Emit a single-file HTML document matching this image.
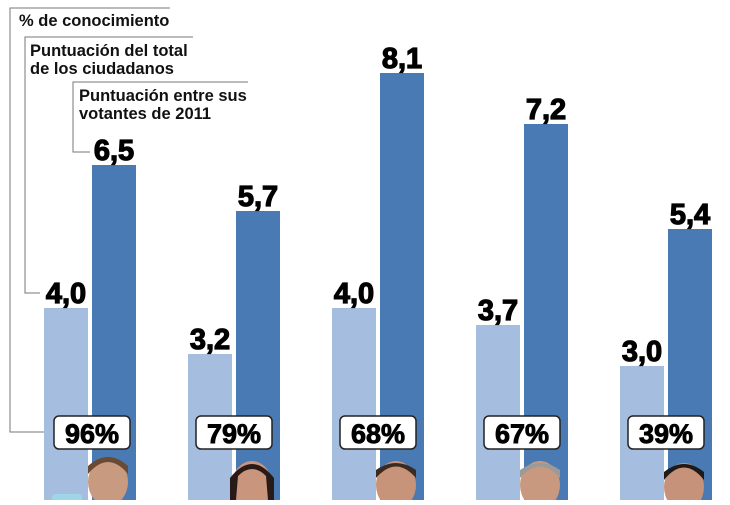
<!DOCTYPE html><html><head><style>body{margin:0;width:730px;height:500px;overflow:hidden;background:#fff;font-family:"Liberation Sans",sans-serif}</style></head><body>
<svg width="730" height="500" xmlns="http://www.w3.org/2000/svg">
<g fill="none" stroke="#777" stroke-width="1">
<polyline points="170,8 10,8 10,432 54,432"/>
<polyline points="193,37 25,37 25,293 40,293"/>
<polyline points="248,82 73,82 73,152 90,152"/>
</g>
<g font-weight="bold" fill="#111" font-size="16.5">
<text x="19" y="26">% de conocimiento</text>
<text x="30" y="56">Puntuación del total</text>
<text x="30" y="74">de los ciudadanos</text>
<text x="79" y="101">Puntuación entre sus</text>
<text x="79" y="119">votantes de 2011</text>
</g>
<g fill="#a5bddf">
<rect x="44" y="308" width="44" height="192"/>
<rect x="188" y="354" width="44" height="146"/>
<rect x="332" y="308" width="44" height="192"/>
<rect x="476" y="325" width="44" height="175"/>
<rect x="620" y="366" width="44" height="134"/>
</g>
<g fill="#4a7ab3">
<rect x="92" y="165" width="44" height="335"/>
<rect x="236" y="211" width="44" height="289"/>
<rect x="380" y="73" width="44" height="427"/>
<rect x="524" y="124" width="44" height="376"/>
<rect x="668" y="229" width="44" height="271"/>
</g>
<g font-weight="900" font-size="29" fill="#000" text-anchor="middle" stroke="#000" stroke-width="1.2">
<text x="66" y="303">4,0</text><text x="114" y="160">6,5</text>
<text x="210" y="349">3,2</text><text x="258" y="206">5,7</text>
<text x="354" y="303">4,0</text><text x="402" y="68">8,1</text>
<text x="498" y="320">3,7</text><text x="546" y="119">7,2</text>
<text x="642" y="361">3,0</text><text x="690" y="224">5,4</text>
</g>
<g>
<rect x="54" y="416" width="76" height="33" rx="5" fill="#fff" stroke="#222" stroke-width="1.5"/>
<rect x="196" y="416" width="76" height="33" rx="5" fill="#fff" stroke="#222" stroke-width="1.5"/>
<rect x="340" y="416" width="76" height="33" rx="5" fill="#fff" stroke="#222" stroke-width="1.5"/>
<rect x="484" y="416" width="76" height="33" rx="5" fill="#fff" stroke="#222" stroke-width="1.5"/>
<rect x="628" y="416" width="76" height="33" rx="5" fill="#fff" stroke="#222" stroke-width="1.5"/>
</g>
<g font-weight="900" font-size="27" fill="#000" text-anchor="middle" stroke="#000" stroke-width="0.9">
<text x="92" y="443">96%</text><text x="234" y="443">79%</text><text x="378" y="443">68%</text><text x="522" y="443">67%</text><text x="666" y="443">39%</text>
</g>
<g>
<ellipse cx="108" cy="482" rx="20" ry="24" fill="#c89a80"/><path d="M88 474 Q108 450 128 474 L128 466 Q108 448 88 466Z" fill="#6b4a33"/>
<ellipse cx="252" cy="485" rx="20" ry="24" fill="#c9957d"/><path d="M230 500 L230 478 Q252 450 274 478 L274 500 L268 500 L266 476 Q252 462 238 476 L236 500Z" fill="#2a1a17"/>
<ellipse cx="396" cy="485" rx="20" ry="24" fill="#c79379"/><path d="M376 478 Q396 455 416 478 L416 470 Q396 456 376 470Z" fill="#3a2a22"/>
<ellipse cx="540" cy="485" rx="20" ry="24" fill="#c8997f"/><path d="M520 478 Q540 455 560 478 L560 470 Q540 456 520 470Z" fill="#9a9a9a"/>
<ellipse cx="684" cy="487" rx="20" ry="24" fill="#c69279"/><path d="M664 480 Q684 455 704 480 L704 472 Q684 456 664 472Z" fill="#1f1a1a"/>
<rect x="52" y="494" width="30" height="10" rx="4" fill="#9fd6e6"/>
</g>
</svg>
</body></html>
